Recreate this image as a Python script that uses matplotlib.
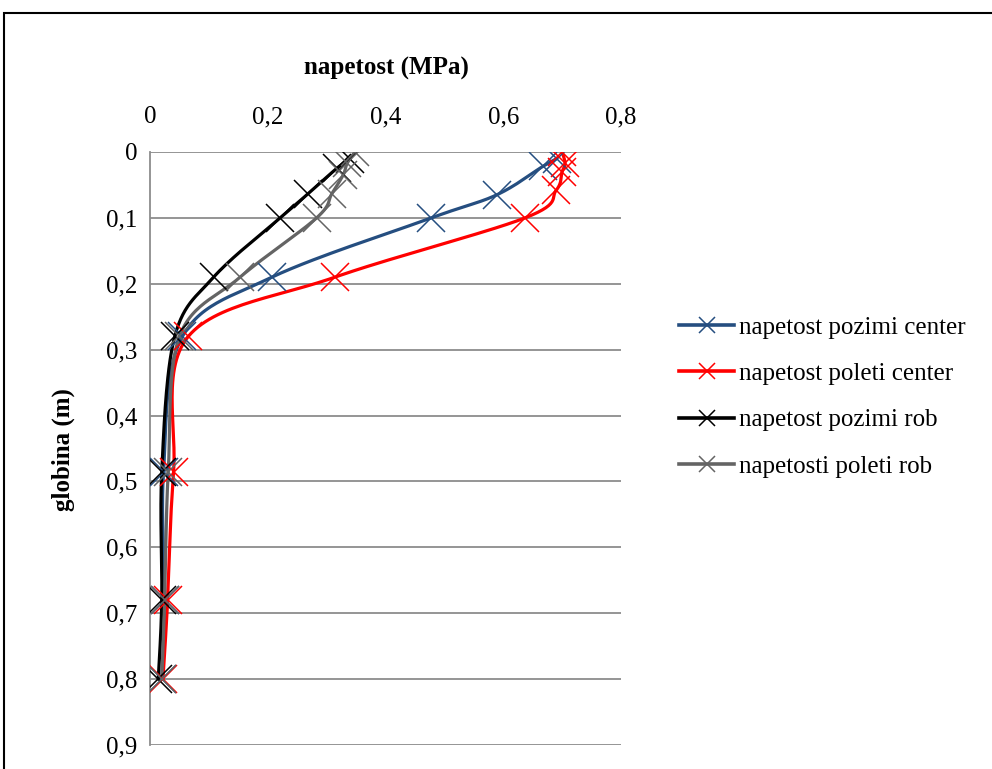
import numpy as np
import matplotlib
matplotlib.use("Agg")
import matplotlib.pyplot as plt
from matplotlib.patches import Rectangle
from matplotlib.ticker import FuncFormatter

plt.rcParams['font.family'] = ['Liberation Serif', 'DejaVu Serif']

# depth (m) and stress (MPa) for each series
depth_pozimi_center = [0.01, 0.022, 0.065, 0.10, 0.19, 0.28, 0.485, 0.68, 0.80]
stress_pozimi_center = [0.691, 0.667, 0.589, 0.478, 0.207, 0.055, 0.023, 0.025, 0.020]

depth_poleti_center = [0.0, 0.017, 0.03, 0.058, 0.10, 0.19, 0.28, 0.485, 0.68, 0.80]
stress_poleti_center = [0.700, 0.705, 0.700, 0.690, 0.637, 0.314, 0.065, 0.040, 0.030, 0.022]

depth_pozimi_rob = [0.01, 0.025, 0.063, 0.10, 0.19, 0.28, 0.485, 0.68, 0.80]
stress_pozimi_rob = [0.340, 0.317, 0.269, 0.221, 0.108, 0.042, 0.020, 0.020, 0.014]

depth_poleti_rob = [0.0, 0.017, 0.035, 0.063, 0.10, 0.19, 0.28, 0.485, 0.68, 0.80]
stress_poleti_rob = [0.348, 0.335, 0.328, 0.309, 0.283, 0.153, 0.050, 0.031, 0.025, 0.020]

series_labels = ["napetost pozimi center", "napetost poleti center",
                 "napetost pozimi rob", "napetosti poleti rob"]
series_colors = ["#254E80", "#FF0000", "#000000", "#646464"]

x_ticks = [0, 0.2, 0.4, 0.6, 0.8]
y_ticks = [0, 0.1, 0.2, 0.3, 0.4, 0.5, 0.6, 0.7, 0.8, 0.9]

FS = 18

W, H = 992, 769
fig = plt.figure(figsize=(W / 100, H / 100), dpi=100)
ax = fig.add_axes([150 / W, 1 - 745 / H, (621 - 150) / W, (745 - 152) / H])

XMIN, XMAX, YMIN, YMAX = 0.0, 0.8, 0.0, 0.9
AX_W, AX_H = 621 - 150, 745 - 152


def smooth_curve(xs, ys, n=30):
    """Bezier smoothing through the points (computed in screen proportions)."""
    px = np.asarray(xs) / (XMAX - XMIN) * AX_W
    py = np.asarray(ys) / (YMAX - YMIN) * AX_H
    pts = np.column_stack([px, py])
    out = [pts[0]]
    m = len(pts)
    for i in range(m - 1):
        p0 = pts[i - 1] if i > 0 else pts[i]
        p1 = pts[i]
        p2 = pts[i + 1]
        p3 = pts[i + 2] if i + 2 < m else pts[i + 1]
        c1 = p1 + (p2 - p0) / 6.0
        c2 = p2 - (p3 - p1) / 6.0
        t = np.linspace(0, 1, n)[1:, None]
        seg = ((1 - t) ** 3) * p1 + 3 * ((1 - t) ** 2) * t * c1 \
            + 3 * (1 - t) * t ** 2 * c2 + t ** 3 * p2
        out.extend(seg)
    out = np.array(out)
    return out[:, 0] / AX_W * (XMAX - XMIN), out[:, 1] / AX_H * (YMAX - YMIN)


data = [
    (stress_pozimi_center, depth_pozimi_center),
    (stress_poleti_center, depth_poleti_center),
    (stress_pozimi_rob, depth_pozimi_rob),
    (stress_poleti_rob, depth_poleti_rob),
]

for (xs, ys), lab, col in zip(data, series_labels, series_colors):
    sx, sy = smooth_curve(xs, ys)
    ax.plot(sx, sy, color=col, lw=2.3, solid_capstyle='round', zorder=3)
    ax.plot(xs, ys, linestyle='none', marker='x', markersize=20,
            markeredgewidth=1.1, color=col, zorder=4)
    ax.plot([], [], color=col, lw=2.6, marker='x', markersize=12,
            markeredgewidth=1.1, label=lab)

ax.set_xlim(XMIN, XMAX)
ax.set_ylim(YMAX, YMIN)
ax.xaxis.tick_top()
ax.set_xticks(x_ticks)
ax.set_yticks(y_ticks)

fmt = FuncFormatter(lambda v, p: ("%g" % round(v, 2)).replace(".", ","))
ax.xaxis.set_major_formatter(fmt)
ax.yaxis.set_major_formatter(fmt)
ax.tick_params(axis='x', length=0, pad=17, labelsize=FS)
ax.tick_params(axis='y', length=0, pad=9, labelsize=FS)

ax.grid(axis='y', color='#8C8C8C', lw=1.3)
ax.set_axisbelow(True)
for side in ['top', 'right', 'bottom']:
    ax.spines[side].set_visible(False)
ax.spines['left'].set_color('#8C8C8C')
ax.spines['left'].set_linewidth(1.3)

fig.text(386 / W, 1 - 68 / H, "napetost (MPa)", fontsize=FS, fontweight='bold',
         ha='center', va='center')
fig.text(63 / W, 1 - 450 / H, "globina (m)", fontsize=FS, fontweight='bold',
         ha='center', va='center', rotation=90)

fig.legend(loc='center left', bbox_to_anchor=(679 / W, 1 - 397 / H),
           frameon=False, fontsize=FS, handlelength=2.2, handletextpad=0.2,
           labelspacing=0.95, borderaxespad=0, borderpad=0)

fig.patches.append(Rectangle((4 / W, -0.1), 1.2, 1 - 13 / H + 0.1,
                             transform=fig.transFigure, fill=False,
                             edgecolor='black', lw=1.5, zorder=10))

fig.savefig("out.png", dpi=100)
